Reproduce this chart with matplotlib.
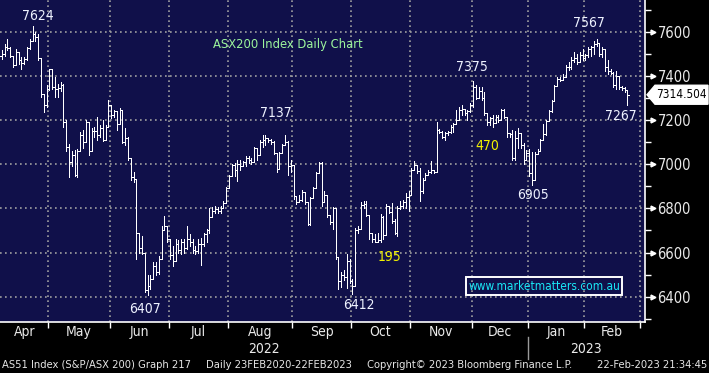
import numpy as np
import pandas as pd
import matplotlib
matplotlib.use("Agg")
import matplotlib.pyplot as plt
from matplotlib.transforms import blended_transform_factory
from matplotlib.patches import Polygon
from matplotlib.lines import Line2D

# ---------------- data ----------------
start_date = "2022-04-04"
end_date = "2023-02-28"
holidays = ["2022-04-15", "2022-04-18", "2022-04-25", "2022-06-13", "2022-09-22",
            "2022-12-26", "2022-12-27", "2023-01-02", "2023-01-26"]

opens = [
    7490, 7500, 7530, 7525, 7490, 7450, 7510, 7470, 7460, 7475,
    7525, 7560, 7590, 7575, 7480, 7320, 7270, 7340, 7430, 7350,
    7340, 7345, 7360, 7190, 7080, 7010, 7040, 6950, 7060, 7130,
    7100, 7190, 7060, 7150, 7150, 7130, 7165, 7110, 7170, 7270,
    7225, 7240, 7180, 7245, 7100, 7120, 7030, 6940, 6935, 6690,
    6620, 6600, 6430, 6450, 6480, 6540, 6510, 6570, 6700, 6720,
    6660, 6590, 6560, 6640, 6610, 6650, 6620, 6660, 6650, 6610,
    6605, 6640, 6640, 6685, 6700, 6760, 6790, 6795, 6790, 6800,
    6825, 6890, 6945, 6995, 6975, 7000, 6990, 7010, 7030, 7020,
    7010, 7075, 7040, 7100, 7110, 7120, 7110, 7100, 7050, 6980,
    7050, 7085, 7100, 6990, 6995, 6855, 6830, 6840, 6875, 6830,
    6730, 6845, 6890, 6960, 7005, 6830, 6860, 6770, 6740, 6800,
    6580, 6470, 6500, 6490, 6560, 6470, 6450, 6700, 6705, 6815,
    6820, 6770, 6690, 6660, 6650, 6655, 6760, 6680, 6810, 6785,
    6745, 6690, 6800, 6810, 6830, 6850, 6860, 6975, 6995, 6970,
    6880, 6930, 6950, 6965, 6975, 6965, 7155, 7145, 7125, 7140,
    7145, 7170, 7180, 7200, 7245, 7250, 7230, 7240, 7270, 7350,
    7300, 7330, 7300, 7230, 7190, 7210, 7185, 7215, 7200, 7245,
    7215, 7140, 7135, 7030, 7120, 7140, 7085, 7020, 7050, 6960,
    6930, 7045, 7060, 7110, 7135, 7195, 7240, 7285, 7355, 7385,
    7380, 7395, 7440, 7440, 7470, 7480, 7465, 7495, 7480, 7495,
    7520, 7530, 7545, 7550, 7500, 7520, 7440, 7420, 7415, 7360,
    7400, 7350, 7345, 7335,
]
highs = [
    7515, 7545, 7567, 7530, 7492, 7522, 7510, 7485, 7485, 7530,
    7567, 7624, 7597, 7590, 7480, 7320, 7357, 7432, 7432, 7395,
    7365, 7370, 7365, 7200, 7090, 7060, 7065, 7070, 7148, 7155,
    7200, 7190, 7165, 7170, 7215, 7178, 7200, 7178, 7290, 7270,
    7245, 7240, 7253, 7245, 7162, 7125, 7030, 6965, 6935, 6690,
    6675, 6600, 6500, 6500, 6555, 6555, 6585, 6720, 6765, 6720,
    6660, 6630, 6660, 6655, 6660, 6660, 6720, 6685, 6660, 6630,
    6660, 6665, 6690, 6705, 6800, 6805, 6810, 6805, 6810, 6835,
    6895, 6950, 7000, 7005, 7020, 7020, 7015, 7035, 7035, 7030,
    7080, 7075, 7110, 7133, 7130, 7115, 7115, 7107, 7050, 7055,
    7092, 7130, 7107, 7017, 6995, 6855, 6860, 6885, 6875, 6830,
    6850, 6896, 6964, 7009, 7009, 6880, 6860, 6770, 6806, 6800,
    6580, 6513, 6520, 6595, 6570, 6480, 6710, 6720, 6830, 6835,
    6833, 6770, 6690, 6685, 6690, 6775, 6766, 6818, 6810, 6826,
    6751, 6810, 6833, 6840, 6870, 6878, 6983, 7013, 6990, 6983,
    6938, 6960, 6975, 7013, 6975, 7193, 7160, 7150, 7148, 7150,
    7178, 7185, 7245, 7260, 7267, 7252, 7245, 7275, 7375, 7357,
    7350, 7350, 7327, 7230, 7215, 7222, 7222, 7222, 7252, 7252,
    7215, 7140, 7155, 7150, 7163, 7140, 7095, 7065, 7070, 7055,
    7055, 7070, 7116, 7183, 7200, 7244, 7290, 7360, 7394, 7395,
    7410, 7447, 7462, 7485, 7507, 7500, 7507, 7522, 7500, 7530,
    7537, 7560, 7567, 7550, 7530, 7520, 7470, 7432, 7417, 7420,
    7400, 7356, 7350, 7334,
]
lows = [
    7477, 7492, 7515, 7485, 7440, 7448, 7455, 7432, 7455, 7470,
    7522, 7560, 7560, 7470, 7305, 7237, 7260, 7335, 7342, 7305,
    7305, 7330, 7170, 7060, 6940, 6990, 6945, 6940, 7060, 7075,
    7100, 7043, 7060, 7125, 7110, 7125, 7103, 7110, 7170, 7208,
    7215, 7155, 7180, 7095, 7088, 7020, 6930, 6920, 6570, 6600,
    6595, 6420, 6407, 6435, 6480, 6500, 6505, 6570, 6700, 6650,
    6570, 6540, 6560, 6600, 6595, 6600, 6615, 6630, 6600, 6595,
    6600, 6545, 6630, 6650, 6690, 6760, 6780, 6780, 6780, 6800,
    6825, 6890, 6945, 6945, 6925, 6975, 6990, 6990, 7005, 7000,
    7010, 7020, 7040, 7080, 7085, 7100, 7090, 7047, 6964, 6980,
    7050, 7085, 6950, 6964, 6843, 6821, 6830, 6835, 6820, 6723,
    6723, 6845, 6890, 6960, 6813, 6830, 6761, 6731, 6708, 6573,
    6437, 6445, 6475, 6440, 6460, 6412, 6450, 6690, 6705, 6800,
    6766, 6660, 6646, 6646, 6646, 6646, 6660, 6680, 6780, 6736,
    6683, 6676, 6796, 6803, 6803, 6788, 6860, 6975, 6960, 6833,
    6870, 6930, 6950, 6960, 6960, 6965, 7140, 7118, 7110, 7133,
    7140, 7148, 7180, 7200, 7222, 7222, 7200, 7237, 7260, 7297,
    7300, 7290, 7223, 7178, 7178, 7170, 7185, 7193, 7200, 7208,
    7125, 7125, 7020, 7020, 7073, 7075, 7000, 7020, 6945, 6905,
    6930, 7045, 7060, 7110, 7130, 7195, 7236, 7285, 7355, 7378,
    7380, 7395, 7425, 7432, 7462, 7455, 7465, 7470, 7470, 7484,
    7490, 7500, 7537, 7490, 7484, 7424, 7410, 7410, 7350, 7340,
    7340, 7334, 7326, 7267,
]
closes = [
    7500, 7530, 7525, 7490, 7450, 7510, 7470, 7460, 7475, 7525,
    7560, 7590, 7575, 7480, 7320, 7270, 7340, 7430, 7350, 7340,
    7345, 7360, 7190, 7080, 7010, 7040, 6950, 7060, 7130, 7100,
    7190, 7060, 7150, 7150, 7130, 7165, 7110, 7170, 7270, 7225,
    7240, 7180, 7245, 7100, 7120, 7030, 6940, 6935, 6690, 6620,
    6600, 6430, 6450, 6480, 6540, 6510, 6570, 6700, 6720, 6660,
    6590, 6560, 6640, 6610, 6650, 6620, 6660, 6650, 6610, 6605,
    6640, 6640, 6685, 6700, 6760, 6790, 6795, 6790, 6800, 6825,
    6890, 6945, 6995, 6975, 7000, 6990, 7010, 7030, 7020, 7010,
    7075, 7040, 7100, 7110, 7120, 7110, 7100, 7050, 6980, 7050,
    7085, 7100, 6990, 6995, 6855, 6830, 6840, 6875, 6830, 6730,
    6845, 6890, 6960, 7005, 6830, 6860, 6770, 6740, 6800, 6580,
    6470, 6500, 6490, 6560, 6470, 6450, 6700, 6705, 6815, 6820,
    6770, 6690, 6660, 6650, 6655, 6760, 6680, 6810, 6785, 6745,
    6690, 6800, 6810, 6830, 6850, 6860, 6975, 6995, 6970, 6880,
    6930, 6950, 6965, 6975, 6965, 7155, 7145, 7125, 7140, 7145,
    7170, 7180, 7200, 7245, 7250, 7230, 7240, 7270, 7350, 7300,
    7330, 7300, 7230, 7190, 7210, 7185, 7215, 7200, 7245, 7215,
    7140, 7135, 7030, 7120, 7140, 7085, 7020, 7050, 6960, 6930,
    7045, 7060, 7110, 7135, 7195, 7240, 7285, 7355, 7385, 7380,
    7395, 7440, 7440, 7470, 7480, 7465, 7495, 7480, 7495, 7520,
    7530, 7545, 7550, 7500, 7520, 7440, 7420, 7415, 7360, 7400,
    7350, 7345, 7335, 7314.504,
]
last_price_label = "7314.504"
y_major = [6400, 6600, 6800, 7000, 7200, 7400, 7600]
y_minor = [6300, 6500, 6700, 6900, 7100, 7300, 7500, 7700]
month_names = ["Apr", "May", "Jun", "Jul", "Aug", "Sep", "Oct", "Nov", "Dec", "Jan", "Feb"]
year_labels = ["2022", "2023"]
annotations = [  # text, bar position, price level, colour
    ("7624", 12.9, 7671, "#eef2ff"),
    ("7137", 97.7, 7232, "#eef2ff"),
    ("7375", 167.6, 7440, "#eef2ff"),
    ("470", 173.0, 7082, "#f2f200"),
    ("195", 138.4, 6578, "#f2f200"),
    ("6407", 51.2, 6344, "#eef2ff"),
    ("6412", 127.3, 6362, "#eef2ff"),
    ("6905", 189.3, 6860, "#eef2ff"),
    ("7567", 209.3, 7639, "#eef2ff"),
    ("7267", 220.7, 7218, "#eef2ff"),
]
title_text = "ASX200 Index Daily Chart"
website = "www.marketmatters.com.au"
footer_parts = ["AS51 Index (S&P/ASX 200) Graph 217", "Daily 23FEB2020-22FEB2023",
                "Copyright\u00a9 2023 Bloomberg Finance L.P.", "22-Feb-2023 21:34:45"]

# ---------------- figure ----------------
FONT = ["DejaVu Sans"]
plt.rcParams["font.family"] = FONT
plt.rcParams["font.stretch"] = "condensed"

W, H = 709, 373
fig = plt.figure(figsize=(W / 100, H / 100), dpi=100, facecolor="black")
ax_right_px, ax_bottom_px = 645, 322
ax = fig.add_axes([0, 1 - ax_bottom_px / H, ax_right_px / W, ax_bottom_px / H])
ax.set_facecolor("#10104a")

n = len(closes)
x = np.arange(n)
o = np.array(opens, float)
h = np.array(highs, float)
l = np.array(lows, float)
c = np.array(closes, float)
top = np.maximum.reduce([h, o, c])
bot = np.minimum.reduce([l, o, c])
LW = 0.72
ax.vlines(x, bot, top, color="white", lw=LW, antialiased=False)
ax.hlines(o, x - 0.5, x, color="white", lw=LW, antialiased=False)
ax.hlines(c, x, x + 0.5, color="white", lw=LW, antialiased=False)

ax.set_xlim(-0.61, 229.26)
ax.set_ylim(6285.5, 7743.5)

# month boundaries from the trading calendar
dates = pd.bdate_range(start_date, end_date, freq="C", holidays=holidays)
months = np.array([d.month for d in dates])
starts = [0] + [i for i in range(1, len(dates)) if months[i] != months[i - 1]]
bounds = [s - 0.5 for s in starts[1:]] + [len(dates) - 0.5]
edges = [s - 0.5 for s in starts] + [len(dates) - 0.5]

ax.set_xticks(bounds)
ax.set_xticklabels([])
ax.tick_params(axis="x", direction="out", length=4, width=1, colors="white")

ax.yaxis.tick_right()
ax.set_yticks(y_major)
ax.set_yticks(y_minor, minor=True)
ax.set_yticklabels([str(v) for v in y_major])
ax.tick_params(axis="y", which="major", direction="out", length=5, width=1,
               colors="white", labelcolor="#eaeaea", labelsize=10.5, pad=4)
ax.tick_params(axis="y", which="minor", direction="out", length=4, width=1, colors="white")

ax.grid(True, which="major", color="#a0a0a0", linestyle=(0, (1, 2)), linewidth=1.2)
ax.set_axisbelow(True)

for s in ["top", "left"]:
    ax.spines[s].set_visible(False)
for s in ["right", "bottom"]:
    ax.spines[s].set_color("white")
    ax.spines[s].set_linewidth(1.2)

# little arrowheads on major ticks
bt = blended_transform_factory(ax.transAxes, ax.transData)
ax.plot([1.012] * len(y_major), y_major, linestyle="none", marker=">", markersize=3.5,
        color="white", transform=bt, clip_on=False)

# month labels and years
bx = blended_transform_factory(ax.transData, ax.transAxes)
xl = ax.get_xlim()
for name, a, b in zip(month_names, edges[:-1], edges[1:]):
    a = max(a, xl[0]); b = min(b, xl[1])
    ax.text((a + b) / 2, -10 / ax_bottom_px, name, transform=bx, ha="center", va="center",
            color="#eaeaea", fontsize=10, clip_on=False)
jan_edge = bounds[8]
ax.text((xl[0] + jan_edge) / 2, -27 / ax_bottom_px, year_labels[0], transform=bx,
        ha="center", va="center", color="#eaeaea", fontsize=10, clip_on=False)
ax.text((jan_edge + xl[1]) / 2, -27 / ax_bottom_px, year_labels[1], transform=bx,
        ha="center", va="center", color="#eaeaea", fontsize=10, clip_on=False)
ax.add_line(Line2D([jan_edge, jan_edge], [-15 / ax_bottom_px, -37 / ax_bottom_px], transform=bx,
                   color="#9a9a9a", lw=1, clip_on=False))

# annotations
for txt, xi, yv, col in annotations:
    ax.text(xi, yv, txt, ha="center", va="center", color=col, fontsize=10)
ax.text(75.3, 7544, title_text, ha="left", va="center", color="#9cf59c", fontsize=9.3)
ax.text(193.3, 6448, website, ha="center", va="center", color="#19e6f5", fontsize=8.6,
        bbox=dict(boxstyle="square,pad=0.2", facecolor="none", edgecolor="white", lw=1.4))

# last-price tag
yt = ax.transData.transform((0, closes[-1]))[1]
fy = yt / H
tag = Polygon([(647 / W, fy), (655 / W, fy + 9.5 / H), (708 / W, fy + 9.5 / H),
               (708 / W, fy - 9.5 / H), (655 / W, fy - 9.5 / H)],
              closed=True, transform=fig.transFigure, facecolor="white", edgecolor="white")
fig.add_artist(tag)
fig.text(681.5 / W, fy, last_price_label, ha="center", va="center", color="black", fontsize=8.5)

# footer
fy2 = 1 - 365 / H
fs = 8.0
fig.text(2 / W, fy2, footer_parts[0], ha="left", va="center", color="#e6e6e6", fontsize=fs)
fig.text(206 / W, fy2, footer_parts[1], ha="left", va="center", color="#e6e6e6", fontsize=fs)
fig.text(367 / W, fy2, footer_parts[2], ha="left", va="center", color="#e6e6e6", fontsize=fs)
fig.text(707 / W, fy2, footer_parts[3], ha="right", va="center", color="#e6e6e6", fontsize=fs)

fig.savefig("out.png", dpi=100, facecolor="black")
